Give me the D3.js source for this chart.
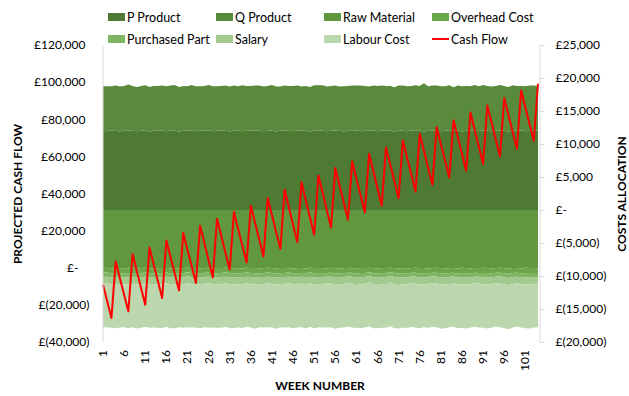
<!DOCTYPE html>
<html>
<head>
<meta charset="utf-8">
<script src="https://cdn.jsdelivr.net/npm/d3@7"></script>
<style>
  body { margin: 0; background: #fff; }
  svg { display: block; }
  text { font-family: Lato, "Open Sans", sans-serif; fill: #000; }
</style>
</head>
<body>
<svg id="chart" width="629" height="396"></svg>
<script>
// Week numbers 1..104
const weeks = d3.range(1, 105);
const weekTicks = [1, 6, 11, 16, 21, 26, 31, 36, 41, 46, 51, 56, 61, 66, 71, 76, 81, 86, 91, 96, 101];
const cashTicks = [-40000, -20000, 0, 20000, 40000, 60000, 80000, 100000, 120000];
const costTicks = [-20000, -15000, -10000, -5000, 0, 5000, 10000, 15000, 20000, 25000];

const seriesNames = ["P Product", "Q Product", "Raw Material", "Overhead Cost", "Purchased Part", "Salary", "Labour Cost"];
const seriesColors = ["#4f7a34", "#5a8a3b", "#61983f", "#6ba74a", "#7fb563", "#a3c98e", "#bcd6ae"];

const pProduct = [
  12000, 11950, 12050, 12000, 11900, 12050, 12100, 12000, 11950, 12000, 12050, 11900, 12000,
  12100, 12000, 11950, 12050, 12000, 11900, 12000, 12050, 12100, 11950, 12000, 12000, 12050,
  11950, 12000, 12100, 12000, 11900, 12050, 12000, 11950, 12000, 12100, 12050, 12000, 11950,
  12000, 12050, 11900, 12000, 12100, 12000, 11950, 12050, 12000, 12000, 11900, 12050, 12100,
  12000, 11950, 12000, 12050, 12000, 11900, 12000, 12100, 12050, 11950, 12000, 12000, 12050,
  11950, 12100, 12000, 12000, 11900, 12050, 12000, 11950, 12050, 12100, 12000, 11900, 12000,
  12050, 12000, 11950, 12000, 12100, 12000, 12050, 11900, 12000, 12000, 12050, 11950, 12100,
  12000, 11950, 12000, 12050, 12000, 11900, 12050, 12000, 12100, 11950, 12000, 12050, 12000
];
const qProduct = [
  6750, 6800, 6700, 6850, 6800, 6750, 6900, 6800, 6700, 6800, 6850, 6750, 6800,
  6700, 6850, 6800, 6800, 6950, 6750, 6800, 6700, 6850, 6800, 6750, 6800, 6900,
  6800, 6750, 6700, 6850, 6800, 6800, 6750, 6950, 6800, 6700, 6800, 6850, 6750,
  6800, 6900, 6800, 6700, 6750, 6800, 6850, 6800, 6700, 6800, 6750, 6850, 6800,
  6900, 6750, 6800, 6800, 6700, 6850, 6800, 6750, 6800, 6900, 6800, 6700, 6800,
  6850, 6750, 6800, 6800, 6700, 6800, 6850, 6800, 6750, 6800, 6800, 7300, 6750,
  6800, 6850, 6800, 6750, 6800, 6600, 6800, 6850, 6800, 6750, 6900, 6800, 6850,
  6800, 6750, 6800, 6900, 6800, 6750, 6850, 6800, 6700, 6800, 6850, 6800, 6800
];
const rawMaterial = [
  -8800, -8750, -8850, -8800, -8800, -8900, -8750, -8800, -8850, -8800, -8750, -8800, -8850,
  -8800, -8800, -8750, -8900, -8800, -8850, -8800, -8750, -8800, -8800, -8850, -8800, -8750,
  -8850, -8800, -8800, -8750, -8800, -8900, -8800, -8850, -8750, -8800, -8800, -8850, -8800,
  -8750, -8800, -8850, -8800, -8800, -8750, -8900, -8800, -8800, -8850, -8750, -8800, -8800,
  -8800, -8850, -8750, -8800, -8900, -8800, -8800, -8750, -8850, -8800, -8800, -8750, -8800,
  -8850, -8800, -8800, -8750, -8800, -8850, -8800, -8900, -8800, -8750, -8800, -8800, -8850,
  -8800, -8750, -8800, -8850, -8800, -8800, -8900, -8750, -8800, -8850, -8800, -8800, -8750,
  -8800, -8850, -8800, -8750, -8800, -8900, -8800, -8800, -8850, -8750, -8800, -8800, -8850
];
const overheadCost = [
  -750, -700, -800, -750, -750, -700, -800, -750, -750, -800, -700, -750, -750,
  -800, -750, -700, -750, -800, -750, -750, -700, -750, -800, -750, -700, -750,
  -750, -800, -750, -700, -750, -750, -800, -750, -700, -750, -800, -750, -750,
  -700, -750, -800, -750, -750, -700, -750, -800, -750, -750, -700, -800, -750,
  -750, -700, -750, -800, -750, -750, -700, -750, -800, -750, -750, -700, -750,
  -800, -750, -750, -700, -750, -800, -750, -750, -700, -750, -800, -750, -750,
  -700, -750, -800, -750, -750, -700, -750, -800, -750, -750, -700, -750, -800,
  -750, -750, -700, -750, -800, -750, -750, -700, -750, -800, -750, -750, -700
];
const purchasedPart = [
  -600, -650, -550, -600, -600, -650, -600, -550, -600, -600, -650, -600, -550,
  -600, -600, -650, -600, -550, -600, -650, -600, -600, -550, -600, -650, -600,
  -550, -600, -600, -650, -600, -600, -550, -600, -650, -600, -600, -550, -600,
  -650, -600, -550, -600, -600, -650, -600, -600, -550, -600, -650, -600, -600,
  -600, -550, -600, -650, -600, -600, -550, -600, -600, -650, -600, -550, -600,
  -600, -650, -600, -550, -600, -600, -650, -600, -550, -600, -600, -650, -600,
  -550, -600, -600, -650, -600, -550, -600, -600, -650, -600, -600, -550, -600,
  -650, -600, -600, -550, -600, -650, -600, -600, -550, -600, -650, -600, -600
];
const salary = [
  -1050, -1000, -1100, -1050, -1050, -1000, -1100, -1050, -1050, -1100, -1000, -1050, -1050,
  -1100, -1050, -1000, -1050, -1100, -1050, -1050, -1000, -1050, -1100, -1050, -1000, -1050,
  -1050, -1100, -1050, -1000, -1050, -1050, -1100, -1050, -1000, -1050, -1100, -1050, -1050,
  -1000, -1050, -1100, -1050, -1050, -1000, -1050, -1100, -1050, -1050, -1000, -1100, -1050,
  -1050, -1000, -1050, -1100, -1050, -1050, -1000, -1050, -1100, -1050, -1050, -1000, -1050,
  -1100, -1050, -1050, -1000, -1050, -1100, -1050, -1050, -1000, -1050, -1100, -1050, -1050,
  -1000, -1050, -1100, -1050, -1050, -1000, -1050, -1100, -1050, -1050, -1000, -1050, -1100,
  -1050, -1050, -1000, -1050, -1100, -1050, -1050, -1000, -1050, -1100, -1050, -1050, -1000
];
const labourCost = [
  -6600, -6650, -6550, -6700, -6600, -6500, -6650, -6600, -6700, -6550, -6600, -6650, -6600,
  -6550, -6700, -6600, -6600, -6650, -6500, -6600, -6700, -6600, -6550, -6650, -6600, -6700,
  -6600, -6550, -6650, -6600, -6700, -6600, -6500, -6650, -6600, -6600, -6700, -6550, -6600,
  -6650, -6600, -6700, -6550, -6600, -6650, -6600, -6500, -6600, -6700, -6600, -6650, -6550,
  -6600, -6700, -6600, -6650, -6550, -6600, -6600, -6700, -6500, -6650, -6600, -6600, -6700,
  -6550, -6600, -6650, -6600, -6700, -6600, -6550, -6600, -6650, -6700, -6600, -6500, -6600,
  -6650, -6600, -6700, -6600, -6550, -6650, -6600, -6600, -6700, -6550, -6600, -6650, -6600,
  -6700, -6600, -6550, -6650, -6600, -6700, -6600, -6550, -6600, -6650, -6700, -6600, -6600
];
const cashFlow = [
  -9200, -18100, -27100, 3400, -5600, -14500, -23500, 7400, -1700, -10800, -19900, 10900, 1800,
  -7200, -16300, 14700, 5700, -3200, -12200, 18700, 9700, 800, -8200, 22600, 13300, 4100,
  -5200, 26400, 17200, 8100, -1100, 30000, 20900, 11900, 2800, 33400, 24300, 15200, 6100,
  37500, 28400, 19300, 10200, 42000, 32600, 23200, 13800, 46000, 36600, 27200, 17800, 49700,
  40400, 31000, 21700, 53700, 44400, 35200, 25900, 57300, 48100, 39000, 29800, 61400, 52100,
  42700, 33400, 64800, 55700, 46600, 37500, 68600, 59400, 50300, 41100, 72000, 62900, 53800,
  44700, 75800, 66700, 57700, 48600, 79400, 70400, 61300, 52300, 83700, 74400, 65200, 55900,
  87400, 78300, 69100, 60000, 91400, 82300, 73200, 64100, 95500, 86500, 77400, 68400, 99100
];

const seriesValues = [pProduct, qProduct, rawMaterial, overheadCost, purchasedPart, salary, labourCost];
const table = weeks.map((w, i) => {
  const row = { week: w };
  seriesNames.forEach((name, k) => { row[name] = seriesValues[k][i]; });
  return row;
});

const svg = d3.select("#chart");

const plotLeft = 102, plotRight = 538, plotTop = 45, plotBottom = 342;
const x = d3.scaleLinear().domain([1, 104]).range([plotLeft + 1, plotRight]);
const yCash = d3.scaleLinear().domain([-40000, 120000]).range([plotBottom, plotTop]);
const yCost = d3.scaleLinear().domain([-20000, 25000]).range([plotBottom, plotTop]);

const money = v => v === 0 ? "£-" : v < 0 ? "£(" + d3.format(",")(-v) + ")" : "£" + d3.format(",")(v);

// stacked cost areas (secondary axis)
const stacked = d3.stack().keys(seriesNames).offset(d3.stackOffsetDiverging)(table);
const area = d3.area()
  .x(d => x(d.data.week))
  .y0(d => yCost(d[0]))
  .y1(d => yCost(d[1]));
svg.append("g").selectAll("path")
  .data(stacked)
  .join("path")
  .attr("d", area)
  .attr("fill", (d, i) => seriesColors[i]);

// cash flow line (primary axis)
const line = d3.line().x((d, i) => x(weeks[i])).y(d => yCash(d));
svg.append("path")
  .datum(cashFlow)
  .attr("d", line)
  .attr("fill", "none")
  .attr("stroke", "#ff0000")
  .attr("stroke-width", 2)
  .attr("stroke-linejoin", "round");

// left axis
const gL = svg.append("g").attr("transform", `translate(${plotLeft + 0.5},0)`)
  .call(d3.axisLeft(yCash).tickValues(cashTicks).tickFormat(money).tickSize(0).tickPadding(13));
gL.select(".domain").attr("stroke", "#d9d9d9");
gL.selectAll("text")
  .style("font-size", "12px")
  .attr("dx", d => d === 0 ? -11 : d > 0 ? -4 : 0);

// right axis
const gR = svg.append("g").attr("transform", `translate(${plotRight + 1.5},0)`)
  .call(d3.axisRight(yCost).tickValues(costTicks).tickFormat(money).tickSize(5).tickPadding(11));
gR.select(".domain").attr("stroke", "#d9d9d9");
gR.selectAll(".tick line").attr("stroke", "#d9d9d9");
gR.selectAll("text").style("font-size", "12px");

// week labels
svg.append("g").selectAll("text")
  .data(weekTicks)
  .join("text")
  .attr("transform", d => `translate(${x(d) + 4},350) rotate(-90)`)
  .attr("text-anchor", "end")
  .style("font-size", "12px")
  .text(d => d);

// axis titles
svg.append("text")
  .attr("transform", "translate(22,194) rotate(-90)")
  .attr("text-anchor", "middle")
  .style("font-size", "12px").style("font-weight", "bold")
  .text("PROJECTED CASH FLOW");
svg.append("text")
  .attr("transform", "translate(626,194) rotate(-90)")
  .attr("text-anchor", "middle")
  .style("font-size", "12px").style("font-weight", "bold")
  .text("COSTS ALLOCATION");
svg.append("text")
  .attr("x", 320).attr("y", 390)
  .attr("text-anchor", "middle")
  .style("font-size", "12px").style("font-weight", "bold")
  .text("WEEK NUMBER");

// legend
const legendItems = seriesNames.map((n, i) => ({ name: n, color: seriesColors[i], type: "area" }))
  .concat([{ name: "Cash Flow", color: "#ff0000", type: "line" }]);
const lg = svg.append("g").selectAll("g")
  .data(legendItems)
  .join("g")
  .attr("transform", (d, i) => `translate(${108 + (i % 4) * 108},${i < 4 ? 17 : 39})`);
lg.filter(d => d.type === "area").append("rect")
  .attr("x", 0).attr("y", -4).attr("width", 17).attr("height", 8)
  .attr("fill", d => d.color);
lg.filter(d => d.type === "line").append("line")
  .attr("x1", 0).attr("x2", 17).attr("y1", 0).attr("y2", 0)
  .attr("stroke", d => d.color).attr("stroke-width", 2);
lg.append("text")
  .attr("x", 19).attr("y", 4.5)
  .style("font-size", "12.5px")
  .text(d => d.name);
</script>
</body>
</html>
